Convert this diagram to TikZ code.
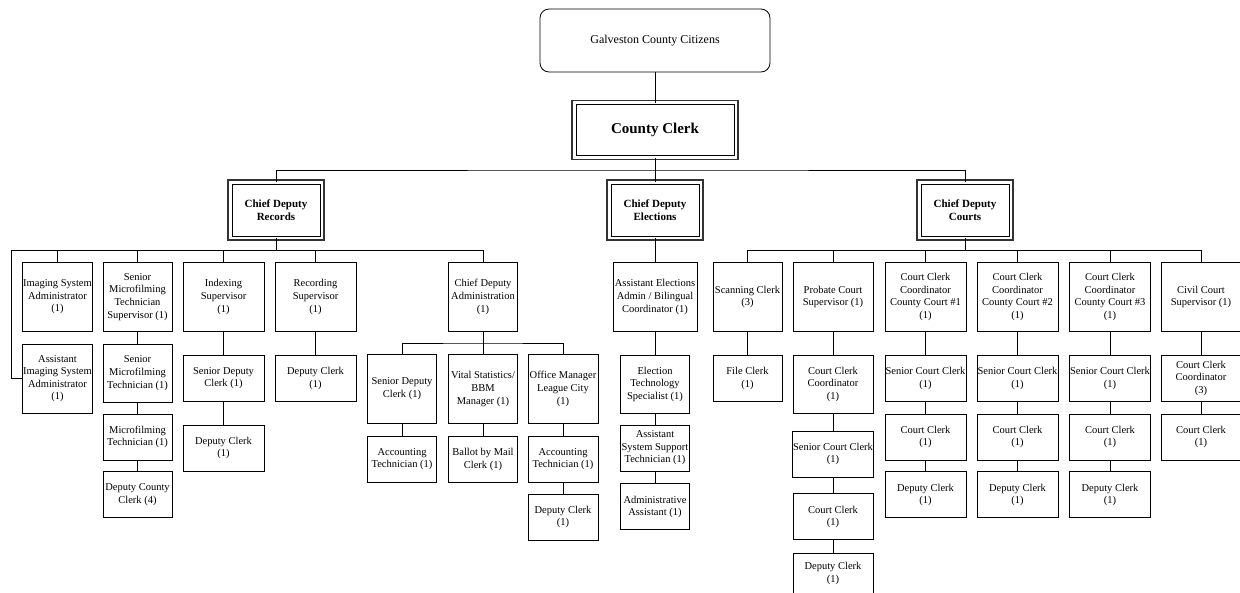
\documentclass[tikz,border=0pt]{standalone}
\usepackage{fontspec}
\setmainfont{Liberation Serif}
\usetikzlibrary{positioning}

\begin{document}
\begin{tikzpicture}
		[x=1pt, y=-1pt,
		unit/.style={draw, line width=0.8pt, align=center, inner sep=0.5pt, minimum width=69pt, minimum height=46pt, font=\fontsize{10.5}{12.6}\selectfont},
		wide/.style={unit, minimum width=81pt},
		chief/.style={draw, line width=0.6pt, align=center, outer sep=2pt, minimum width=88pt, minimum height=52pt, font=\fontsize{11}{13}\selectfont\bfseries,
			append after command={\pgfextra{\draw[line width=1.1pt, black!80] ([shift={(-2pt,-2pt)}]\tikzlastnode.south west) rectangle ([shift={(2pt,2pt)}]\tikzlastnode.north east);}}},
		link/.style={line width=0.7pt}]
		\useasboundingbox (0,0) rectangle (1240,592);

		\node[draw, line width=0.8pt, rounded corners=9pt, minimum width=230pt, minimum height=63pt, font=\fontsize{12}{14}\selectfont] (cit) at (655,40.5) {Galveston County Citizens};
		\node[chief, minimum width=158pt, minimum height=51pt, font=\fontsize{15}{17}\selectfont\bfseries] (clerk) at (655,130) {County Clerk};
		\node[chief] (rec) at (276,210) {Chief Deputy\\Records};
		\node[chief] (ele) at (655,210) {Chief Deputy\\Elections};
		\node[chief] (crt) at (965,210) {Chief Deputy\\Courts};

		\node[unit, minimum height=69pt, anchor=north] (img) at (57.5,262) {Imaging System\\Administrator\\(1)};
		\node[unit, minimum height=69pt, below=12pt of img] (aimg) {Assistant\\Imaging System\\Administrator\\(1)};
		\node[unit, minimum height=69pt, anchor=north] (smts) at (137.5,262) {Senior\\Microfilming\\Technician\\Supervisor (1)};
		\node[unit, minimum height=58pt, below=12pt of smts] (smt) {Senior\\Microfilming\\Technician (1)};
		\node[unit, below=11pt of smt] (mt) {Microfilming\\Technician (1)};
		\node[unit, below=11pt of mt] (dcc) {Deputy County\\Clerk (4)};
		\node[wide, minimum height=69pt, anchor=north] (idx) at (223.5,262) {Indexing\\Supervisor\\(1)};
		\node[wide, below=23pt of idx] (sdc) {Senior Deputy\\Clerk (1)};
		\node[wide, below=23pt of sdc] (idc) {Deputy Clerk\\(1)};
		\node[wide, minimum height=69pt, anchor=north] (recs) at (315.5,262) {Recording\\Supervisor\\(1)};
		\node[wide, below=23pt of recs] (rdc) {Deputy Clerk\\(1)};
		\node[unit, minimum height=69pt, anchor=north] (adm) at (483,262) {Chief Deputy\\Administration\\(1)};
		\node[unit, minimum height=69pt, anchor=north] (asdc) at (402,354) {Senior Deputy\\Clerk (1)};
		\node[unit, below=12pt of asdc] (act1) {Accounting\\Technician (1)};
		\node[unit, minimum height=69pt, anchor=north] (vs) at (483,354) {Vital Statistics/\\BBM\\Manager (1)};
		\node[unit, below=12pt of vs] (bmc) {Ballot by Mail\\Clerk (1)};
		\node[unit, minimum width=70pt, minimum height=69pt, anchor=north] (om) at (563,354) {Office Manager\\League City\\(1)};
		\node[unit, minimum width=70pt, below=12pt of om] (act2) {Accounting\\Technician (1)};
		\node[unit, minimum width=70pt, below=11pt of act2] (odc) {Deputy Clerk\\(1)};

		\node[unit, minimum width=84pt, minimum height=69pt, anchor=north] (aea) at (655,262) {Assistant Elections\\Admin / Bilingual\\Coordinator (1)};
		\node[unit, minimum height=58pt, below=23pt of aea] (ets) {Election\\Technology\\Specialist (1)};
		\node[unit, below=11pt of ets] (asst) {Assistant\\System Support\\Technician (1)};
		\node[unit, below=12pt of asst] (aa) {Administrative\\Assistant (1)};

		\node[unit, minimum height=69pt, anchor=north] (scan) at (747.5,262) {Scanning Clerk\\(3)};
		\node[unit, below=23pt of scan] (fc) {File Clerk\\(1)};
		\node[wide, minimum width=80pt, minimum height=69pt, anchor=north] (prob) at (833,262) {Probate Court\\Supervisor (1)};
		\node[wide, minimum width=80pt, minimum height=58pt, below=23pt of prob] (pccc) {Court Clerk\\Coordinator\\(1)};
		\node[wide, minimum width=80pt, below=17pt of pccc] (pscc) {Senior Court Clerk\\(1)};
		\node[wide, minimum width=80pt, below=16pt of pscc] (pcc) {Court Clerk\\(1)};
		\node[wide, minimum width=80pt, minimum height=40pt, below=13pt of pcc] (pdc) {Deputy Clerk\\(1)};
		\node[wide, minimum height=69pt, anchor=north] (cc1) at (925.5,262) {Court Clerk\\Coordinator\\County Court \#1\\(1)};
		\node[wide, below=23pt of cc1] (scc1) {Senior Court Clerk\\(1)};
		\node[wide, below=12pt of scc1] (ccl1) {Court Clerk\\(1)};
		\node[wide, below=11pt of ccl1] (dc1) {Deputy Clerk\\(1)};
		\node[wide, minimum height=69pt, anchor=north] (cc2) at (1017.5,262) {Court Clerk\\Coordinator\\County Court \#2\\(1)};
		\node[wide, below=23pt of cc2] (scc2) {Senior Court Clerk\\(1)};
		\node[wide, below=12pt of scc2] (ccl2) {Court Clerk\\(1)};
		\node[wide, below=11pt of ccl2] (dc2) {Deputy Clerk\\(1)};
		\node[wide, minimum height=69pt, anchor=north] (cc3) at (1110,262) {Court Clerk\\Coordinator\\County Court \#3\\(1)};
		\node[wide, below=23pt of cc3] (scc3) {Senior Court Clerk\\(1)};
		\node[wide, below=12pt of scc3] (ccl3) {Court Clerk\\(1)};
		\node[wide, below=11pt of ccl3] (dc3) {Deputy Clerk\\(1)};
		\node[wide, minimum width=80pt, minimum height=69pt, anchor=north] (civ) at (1201,262) {Civil Court\\Supervisor (1)};
		\node[wide, minimum width=80pt, below=23pt of civ] (civc) {Court Clerk\\Coordinator\\(3)};
		\node[wide, minimum width=80pt, below=12pt of civc] (civcc) {Court Clerk\\(1)};

		\coordinate (topbar) at (655,170);
		\coordinate (recbar) at (276,250);
		\coordinate (recleft) at (11,250);
		\coordinate (admbar) at (483,343);
		\coordinate (crtbar) at (965,250);

		\draw[link] (cit) -- (clerk) -- (ele);
		\draw[link] (rec) |- (topbar) -| (crt);

		\draw[link] (rec) -- (recbar);
		\draw[link] (aimg) -| (recleft) -| (adm);
		\draw[link] (recbar) -| (img);
		\draw[link] (recbar) -| (smts);
		\draw[link] (recbar) -| (idx);
		\draw[link] (recbar) -| (recs);
		\draw[link] (smts) -- (smt) -- (mt) -- (dcc);
		\draw[link] (idx) -- (sdc) -- (idc);
		\draw[link] (recs) -- (rdc);
		\draw[link] (adm) -- (vs) -- (bmc);
		\draw[link] (asdc) |- (admbar) -| (om);
		\draw[link] (asdc) -- (act1);
		\draw[link] (om) -- (act2) -- (odc);

		\draw[link] (ele) -- (aea) -- (ets) -- (asst) -- (aa);

		\draw[link] (crt) -- (crtbar);
		\draw[link] (scan) |- (crtbar) -| (civ);
		\draw[link] (crtbar) -| (prob);
		\draw[link] (crtbar) -| (cc1);
		\draw[link] (crtbar) -| (cc2);
		\draw[link] (crtbar) -| (cc3);
		\draw[link] (scan) -- (fc);
		\draw[link] (prob) -- (pccc) -- (pscc) -- (pcc) -- (pdc);
		\draw[link] (cc1) -- (scc1) -- (ccl1) -- (dc1);
		\draw[link] (cc2) -- (scc2) -- (ccl2) -- (dc2);
		\draw[link] (cc3) -- (scc3) -- (ccl3) -- (dc3);
		\draw[link] (civ) -- (civc) -- (civcc);
	\end{tikzpicture}
\end{document}
